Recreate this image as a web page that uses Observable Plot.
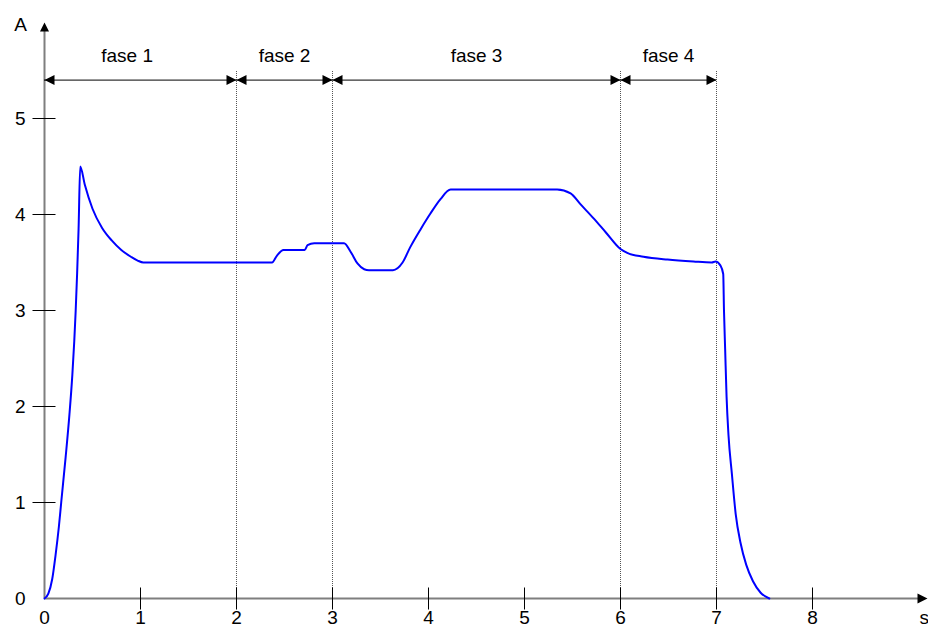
<!DOCTYPE html>
<html>
<head>
<meta charset="utf-8">
<script src="https://cdn.jsdelivr.net/npm/d3@7"></script>
<script src="https://cdn.jsdelivr.net/npm/@observablehq/plot@0.6"></script>
<style>
  html, body { margin: 0; padding: 0; background: #fff; }
  #chart svg { display: block; }
</style>
</head>
<body>
<div id="chart"></div>
<script>
// ---- data ----
const curveX = [0, 0.04, 0.08, 0.115, 0.15, 0.174, 0.22, 0.26, 0.29, 0.31, 0.325, 0.34, 0.355, 0.372,
  0.42, 0.5, 0.6, 0.7, 0.8, 0.9, 0.97, 1.03, 2.37, 2.42, 2.49, 2.71, 2.74, 2.81,
  3.12, 3.19, 3.26, 3.33, 3.38, 3.63, 3.73, 3.81, 3.92, 4.02, 4.125, 4.23, 5.34, 5.48,
  5.58, 5.72, 5.85, 6.0, 6.07, 6.24, 6.49, 6.76, 6.95, 6.99, 7.04, 7.07, 7.078, 7.09,
  7.105, 7.125, 7.16, 7.2, 7.25, 7.31, 7.38, 7.46, 7.55];
const curveY = [0, 0.05, 0.2, 0.45, 0.75, 1.0, 1.47, 1.92, 2.33, 2.68, 3.0, 3.39, 3.85, 4.5,
  4.31, 4.06, 3.86, 3.73, 3.63, 3.56, 3.52, 3.5, 3.5, 3.57, 3.63, 3.63, 3.68, 3.70,
  3.70, 3.61, 3.49, 3.43, 3.42, 3.42, 3.50, 3.66, 3.85, 4.01, 4.16, 4.26, 4.26, 4.22,
  4.11, 3.96, 3.81, 3.64, 3.60, 3.56, 3.53, 3.51, 3.50, 3.51, 3.47, 3.38, 3.0, 2.6,
  2.1, 1.7, 1.3, 0.88, 0.58, 0.35, 0.18, 0.06, 0];

const xTicks = [0, 1, 2, 3, 4, 5, 6, 7, 8];
const yTicks = [0, 1, 2, 3, 4, 5];
const phaseBounds = [0, 2, 3, 6, 7];
const phaseLabels = ["fase 1", "fase 2", "fase 3", "fase 4"];
const phaseLabelX = [0.86, 2.5, 4.5, 6.5];
const phaseArrowY = 5.4;
const dividerTop = 5.5;
const xAxisLabel = "s";
const yAxisLabel = "A";

// ---- build ----
const W = 928, H = 628, mL = 44, mR = 0, mT = 22, mB = 30;
const xMax = (W - mL - mR) / 96;
const yMax = 6;

const curve = curveX.map((x, i) => ({x, y: curveY[i]}));
const phases = phaseLabels.map((label, i) => ({
  label, x1: phaseBounds[i], x2: phaseBounds[i + 1], lx: phaseLabelX[i]
}));
const dividers = phaseBounds.slice(1);

const sym = (f) => ({draw(ctx) { f(ctx); }});
const arrowRight = sym(c => { c.moveTo(0, 0); c.lineTo(-10, -5); c.lineTo(-10, 5); c.closePath(); });
const arrowLeft  = sym(c => { c.moveTo(0, 0); c.lineTo(10, -5); c.lineTo(10, 5); c.closePath(); });
const arrowUp    = sym(c => { c.moveTo(0, 0); c.lineTo(-4.5, 9); c.lineTo(4.5, 9); c.closePath(); });
const tickV      = sym(c => { c.moveTo(0, -11); c.lineTo(0, 11); });
const tickH      = sym(c => { c.moveTo(-12, 0); c.lineTo(11, 0); });

const font = "'Liberation Sans', Arial, Helvetica, sans-serif";
const fs = 19;

const chart = Plot.plot({
  width: W, height: H,
  marginLeft: mL, marginRight: mR, marginTop: mT, marginBottom: mB,
  style: {fontFamily: font, background: "#fff", overflow: "visible"},
  x: {domain: [0, xMax], axis: null},
  y: {domain: [0, yMax], axis: null},
  marks: [
    // dotted phase dividers
    Plot.ruleX(dividers, {x: d => d, y1: 0, y2: dividerTop, stroke: "#555", strokeWidth: 1, strokeDasharray: "1,1"}),
    // axis lines
    Plot.ruleX([0], {x: d => d, y1: 0, y2: yMax - 0.05, stroke: "#7f7f7f", strokeWidth: 2}),
    Plot.ruleY([0], {y: d => d, x1: 0, x2: xMax - 0.05, stroke: "#7f7f7f", strokeWidth: 2}),
    // axis arrowheads
    Plot.dot([yMax], {x: 0, y: d => d, symbol: arrowUp, fill: "#000", stroke: "none"}),
    Plot.dot([xMax], {x: d => d, y: 0, dx: -1, symbol: arrowRight, fill: "#000", stroke: "none"}),
    // ticks
    Plot.dot(xTicks.slice(1), {x: d => d, y: 0, symbol: tickV, fill: "none", stroke: "#000", strokeWidth: 1}),
    Plot.dot(yTicks.slice(1), {x: 0, y: d => d, symbol: tickH, fill: "none", stroke: "#000", strokeWidth: 1}),
    // tick labels
    Plot.text(xTicks, {x: d => d, y: 0, dy: 19, text: d => String(d), fontSize: fs, fill: "#000", textAnchor: "middle"}),
    Plot.text(yTicks, {x: 0, y: d => d, dx: -19, text: d => String(d), fontSize: fs, fill: "#000", textAnchor: "end"}),
    // axis titles
    Plot.text([yAxisLabel], {x: 0, y: yMax, dx: -24, dy: 2, text: d => d, fontSize: fs, fill: "#000", textAnchor: "middle"}),
    Plot.text([xAxisLabel], {x: xMax, y: 0, dx: -9, dy: 19, text: d => d, fontSize: fs, fill: "#000", textAnchor: "start"}),
    // phase arrows
    Plot.ruleY(phases, {y: phaseArrowY, x1: "x1", x2: "x2", stroke: "#000", strokeWidth: 1}),
    Plot.dot(phases, {x: "x1", y: phaseArrowY, symbol: arrowLeft, fill: "#000", stroke: "none"}),
    Plot.dot(phases, {x: "x2", y: phaseArrowY, symbol: arrowRight, fill: "#000", stroke: "none"}),
    Plot.text(phases, {x: "lx", y: phaseArrowY, dy: -24, text: "label", fontSize: fs, fill: "#000", textAnchor: "middle"}),
    // current curve
    Plot.line(curve, {x: "x", y: "y", stroke: "#0000ff", strokeWidth: 2, curve: "monotone-x"})
  ]
});
document.getElementById("chart").appendChild(chart);
</script>
</body>
</html>
